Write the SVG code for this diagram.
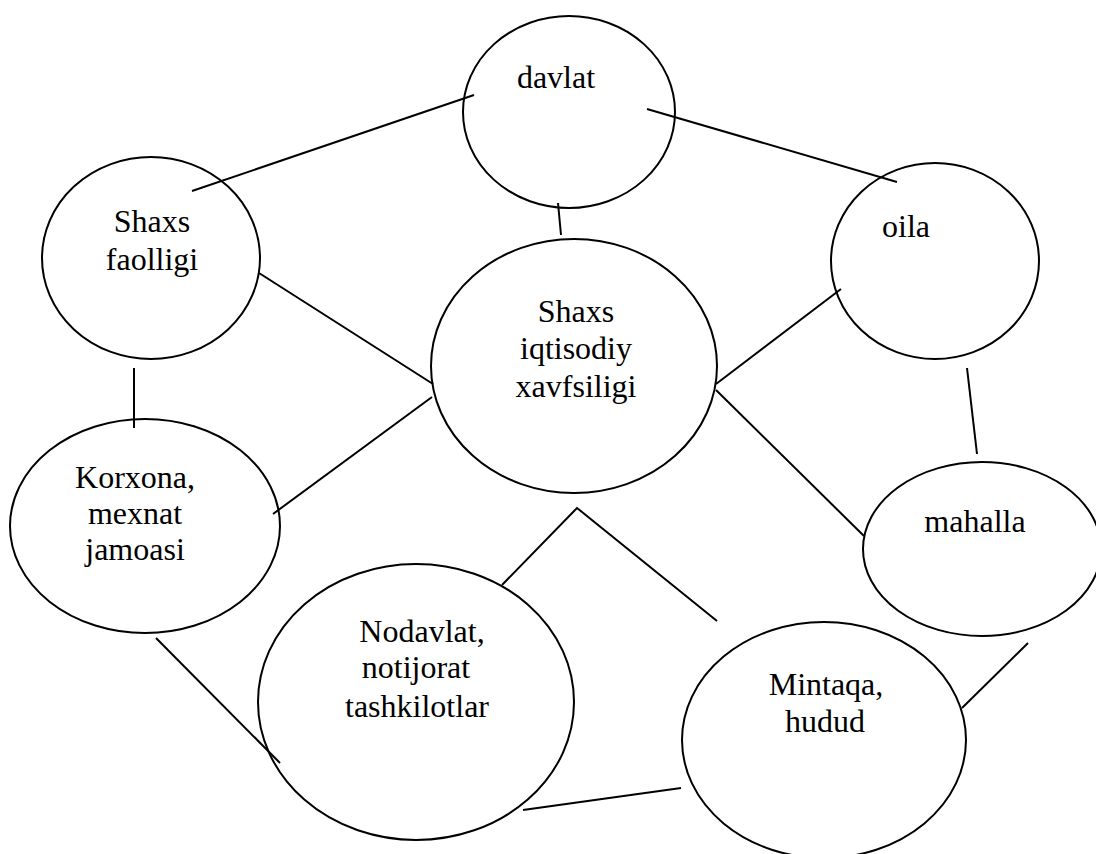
<svg xmlns="http://www.w3.org/2000/svg" width="1096" height="854" viewBox="0 0 1096 854">
<style>
.n ellipse{fill:none;stroke:#000;stroke-width:2}
.n text{font-family:"Liberation Serif","Times New Roman",serif;font-size:32px;fill:#000;text-anchor:middle}
#connectors line,#connectors polyline{stroke:#000;stroke-width:2;fill:none}
</style>
<rect width="1096" height="854" fill="#fff"/>
<g id="connectors">
<line x1="474" y1="95" x2="192" y2="191"/>
<line x1="647" y1="109" x2="897" y2="182"/>
<line x1="558" y1="203" x2="561" y2="235"/>
<line x1="259" y1="273" x2="433" y2="384"/>
<line x1="134" y1="368" x2="134" y2="428"/>
<line x1="432" y1="397" x2="273" y2="514"/>
<line x1="716" y1="384" x2="841" y2="289"/>
<line x1="967" y1="368" x2="977" y2="454"/>
<line x1="716" y1="390" x2="864" y2="536"/>
<polyline points="502,585 577,508 717,621"/>
<line x1="156" y1="638" x2="280" y2="763"/>
<line x1="523" y1="810" x2="681" y2="788"/>
<line x1="962" y1="708" x2="1028" y2="643"/>
</g>
<g id="davlat" class="n">
<ellipse cx="569" cy="112" rx="106" ry="96"/>
<text x="556" y="88">davlat</text>
</g>
<g id="shaxs-faolligi" class="n">
<ellipse cx="151" cy="258" rx="109" ry="101"/>
<text x="152" y="232">Shaxs</text>
<text x="152" y="270">faolligi</text>
</g>
<g id="oila" class="n">
<ellipse cx="935" cy="261" rx="104" ry="98"/>
<text x="906" y="237">oila</text>
</g>
<g id="shaxs-iqtisodiy" class="n">
<ellipse cx="574" cy="366" rx="143" ry="127"/>
<text x="576" y="322">Shaxs</text>
<text x="576" y="359">iqtisodiy</text>
<text x="576" y="397">xavfsiligi</text>
</g>
<g id="korxona" class="n">
<ellipse cx="145" cy="526" rx="135" ry="107"/>
<text x="135" y="488">Korxona,</text>
<text x="135" y="524">mexnat</text>
<text x="135" y="560">jamoasi</text>
</g>
<g id="mahalla" class="n">
<ellipse cx="982" cy="549" rx="119" ry="87"/>
<text x="975" y="532">mahalla</text>
</g>
<g id="nodavlat" class="n">
<ellipse cx="416" cy="702" rx="158" ry="138"/>
<text x="422" y="642">Nodavlat,</text>
<text x="416" y="678">notijorat</text>
<text x="417" y="717">tashkilotlar</text>
</g>
<g id="mintaqa" class="n">
<ellipse cx="824" cy="740" rx="142" ry="118"/>
<text x="826" y="695">Mintaqa,</text>
<text x="825" y="732">hudud</text>
</g>
</svg>
